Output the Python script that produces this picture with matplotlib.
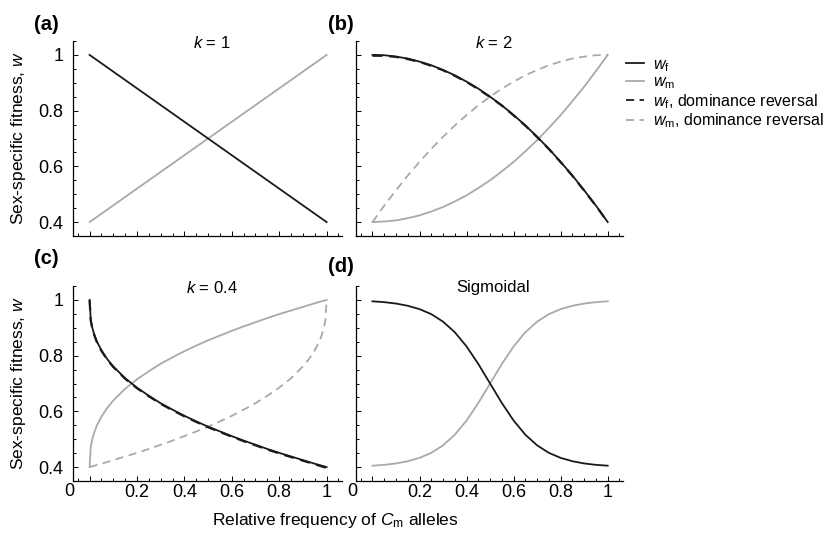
import matplotlib
matplotlib.use('Agg')
import matplotlib.pyplot as plt
from matplotlib.lines import Line2D
from matplotlib.ticker import MultipleLocator, FixedLocator, FixedFormatter

plt.rcParams['font.family'] = ['Liberation Sans', 'DejaVu Sans']
plt.rcParams['mathtext.fontset'] = 'custom'
plt.rcParams['mathtext.rm'] = 'Liberation Sans'
plt.rcParams['mathtext.it'] = 'Liberation Sans:italic'

# values
x_k1 = [0, 1]
wf_k1 = [1.0, 0.4]
wm_k1 = [0.4, 1.0]

x_k2 = [0, 0.05, 0.1, 0.15, 0.2, 0.25, 0.3, 0.35, 0.4, 0.45, 0.5,
        0.55, 0.6, 0.65, 0.7, 0.75, 0.8, 0.85, 0.9, 0.95, 1]
wf_k2 = [1.0, 0.999, 0.994, 0.987, 0.976, 0.963, 0.946, 0.927, 0.904, 0.879, 0.85,
         0.819, 0.784, 0.747, 0.706, 0.663, 0.616, 0.567, 0.514, 0.459, 0.4]
wm_k2 = [0.4, 0.402, 0.406, 0.414, 0.424, 0.438, 0.454, 0.474, 0.496, 0.522, 0.55,
         0.582, 0.616, 0.654, 0.694, 0.738, 0.784, 0.834, 0.886, 0.942, 1.0]
wf_k2_rev = [0.997, 0.997, 0.993, 0.985, 0.975, 0.961, 0.945, 0.925, 0.903, 0.877, 0.849,
             0.818, 0.783, 0.746, 0.705, 0.662, 0.615, 0.566, 0.513, 0.458, 0.4]
wm_k2_rev = [0.4, 0.459, 0.514, 0.567, 0.616, 0.663, 0.706, 0.747, 0.784, 0.819, 0.85,
             0.879, 0.904, 0.927, 0.946, 0.963, 0.976, 0.987, 0.994, 0.999, 1.0]

x_k04 = [0, 0.005, 0.01, 0.02, 0.03, 0.05, 0.075, 0.1, 0.15, 0.2, 0.25, 0.3, 0.35,
         0.4, 0.45, 0.5, 0.55, 0.6, 0.65, 0.7, 0.75, 0.8, 0.85, 0.9, 0.95, 1]
wf_k04 = [1.0, 0.928, 0.905, 0.875, 0.852, 0.819, 0.787, 0.761, 0.719, 0.685, 0.656,
          0.629, 0.606, 0.584, 0.564, 0.545, 0.528, 0.511, 0.495, 0.480, 0.465,
          0.451, 0.438, 0.425, 0.412, 0.4]
wm_k04 = [0.4, 0.472, 0.495, 0.525, 0.548, 0.581, 0.613, 0.639, 0.681, 0.715, 0.744,
          0.771, 0.794, 0.816, 0.836, 0.855, 0.872, 0.889, 0.905, 0.920, 0.935,
          0.949, 0.962, 0.975, 0.988, 1.0]
wf_k04_rev = [0.998, 0.926, 0.903, 0.873, 0.850, 0.817, 0.785, 0.759, 0.717, 0.683, 0.654,
              0.627, 0.604, 0.582, 0.562, 0.543, 0.526, 0.509, 0.493, 0.478, 0.463,
              0.449, 0.436, 0.423, 0.410, 0.397]
x_k04_rev = [0, 0.05, 0.1, 0.15, 0.2, 0.25, 0.3, 0.35, 0.4, 0.45, 0.5, 0.55, 0.6,
             0.65, 0.7, 0.75, 0.8, 0.85, 0.9, 0.925, 0.95, 0.97, 0.98, 0.99, 0.995, 1]
wm_k04_rev = [0.4, 0.412, 0.425, 0.438, 0.451, 0.465, 0.480, 0.495, 0.511, 0.528, 0.545,
              0.564, 0.584, 0.606, 0.629, 0.656, 0.685, 0.719, 0.761, 0.787, 0.819,
              0.852, 0.875, 0.905, 0.928, 1.0]

x_sig = x_k2
wf_sig = [0.995, 0.992, 0.987, 0.979, 0.967, 0.949, 0.922, 0.884, 0.833, 0.770, 0.7,
          0.630, 0.567, 0.516, 0.478, 0.451, 0.433, 0.421, 0.413, 0.408, 0.405]
wm_sig = [0.405, 0.408, 0.413, 0.421, 0.433, 0.451, 0.478, 0.516, 0.567, 0.630, 0.7,
          0.770, 0.833, 0.884, 0.922, 0.949, 0.967, 0.979, 0.987, 0.992, 0.995]

titles = ['$k$ = 1', '$k$ = 2', '$k$ = 0.4', 'Sigmoidal']
panel_tags = ['(a)', '(b)', '(c)', '(d)']
xtick_vals = [0, 0.2, 0.4, 0.6, 0.8, 1]
xtick_text = ['', '0.2', '0.4', '0.6', '0.8', '1']
ytick_vals = [0.4, 0.6, 0.8, 1]
ytick_text = ['0.4', '0.6', '0.8', '1']

BLACK = '#1a1a1a'
GREY = '#a9a9a9'
DASH = (0, (4.5, 3))

fig = plt.figure(figsize=(8.27, 5.33), dpi=100)
W, H = 827.0, 533.0
boxes = [(73, 41, 269, 195), (356, 41, 267, 195),
         (73, 286, 269, 195), (356, 286, 267, 195)]
axes = []
for (l, t, w, h) in boxes:
    axes.append(fig.add_axes([l / W, 1 - (t + h) / H, w / W, h / H]))

ax_a, ax_b, ax_c, ax_d = axes

ax_a.plot(x_k1, wm_k1, color=GREY, lw=1.3)
ax_a.plot(x_k1, wf_k1, color=BLACK, lw=1.3)

ax_b.plot(x_k2, wm_k2_rev, color=GREY, lw=1.3, ls=DASH)
ax_b.plot(x_k2, wm_k2, color=GREY, lw=1.3)
ax_b.plot(x_k2, wf_k2_rev, color=BLACK, lw=1.6, ls=DASH)
ax_b.plot(x_k2, wf_k2, color=BLACK, lw=1.3)

ax_c.plot(x_k04_rev, wm_k04_rev, color=GREY, lw=1.3, ls=DASH)
ax_c.plot(x_k04, wm_k04, color=GREY, lw=1.3)
ax_c.plot(x_k04, wf_k04_rev, color=BLACK, lw=1.6, ls=DASH)
ax_c.plot(x_k04, wf_k04, color=BLACK, lw=1.3)

ax_d.plot(x_sig, wm_sig, color=GREY, lw=1.3)
ax_d.plot(x_sig, wf_sig, color=BLACK, lw=1.3)

for i, ax in enumerate(axes):
    ax.set_xlim(-0.07, 1.065)
    ax.set_ylim(0.35, 1.05)
    for s in ['top', 'right']:
        ax.spines[s].set_visible(False)
    for s in ['left', 'bottom']:
        ax.spines[s].set_linewidth(0.9)
    ax.xaxis.set_major_locator(FixedLocator(xtick_vals))
    ax.xaxis.set_minor_locator(MultipleLocator(0.05))
    ax.yaxis.set_major_locator(FixedLocator(ytick_vals))
    ax.yaxis.set_minor_locator(MultipleLocator(0.05))
    ax.tick_params(which='both', direction='in', width=0.7, labelsize=13)
    ax.tick_params(which='major', length=3.8)
    ax.tick_params(which='minor', length=2)
    ax.tick_params(axis='y', pad=7)
    ax.tick_params(axis='x', pad=2)
    if i in (2, 3):
        ax.xaxis.set_major_formatter(FixedFormatter(xtick_text))
        ax.text(-0.085, -0.012, '0', transform=ax.get_xaxis_transform(),
                ha='center', va='top', fontsize=13)
    else:
        ax.set_xticklabels([])
    if i in (0, 2):
        ax.yaxis.set_major_formatter(FixedFormatter(ytick_text))
    else:
        ax.set_yticklabels([])
    ax.text(0.515, 0.99, titles[i], transform=ax.transAxes,
            ha='center', va='center', fontsize=12)

tag_pos = [(46, 24), (341, 24), (46, 259), (341, 266)]
for tag, (px, py) in zip(panel_tags, tag_pos):
    fig.text(px / W, 1 - py / H, tag, fontsize=14.5, fontweight='bold',
             ha='center', va='center')

for t, h in [(41, 195), (286, 195)]:
    fig.text(19 / W, 1 - (t + h / 2) / H, 'Sex-specific fitness, $w$',
             rotation=90, ha='center', va='center', fontsize=12.5)
fig.text(335 / W, 1 - 521 / H, 'Relative frequency of $C_\\mathrm{m}$ alleles',
         ha='center', va='center', fontsize=12.5)

handles = [Line2D([], [], color=BLACK, lw=1.3),
           Line2D([], [], color=GREY, lw=1.3),
           Line2D([], [], color=BLACK, lw=1.3, ls=DASH),
           Line2D([], [], color=GREY, lw=1.3, ls=DASH)]
labels = ['$w_\\mathrm{f}$', '$w_\\mathrm{m}$',
          '$w_\\mathrm{f}$, dominance reversal', '$w_\\mathrm{m}$, dominance reversal']
fig.legend(handles, labels, loc='upper left', bbox_to_anchor=(626 / W, 1 - 57 / H),
           frameon=False, fontsize=11.5, handlelength=1.1, handletextpad=0.6,
           labelspacing=0.05, borderpad=0, borderaxespad=0)

fig.savefig('out.png', dpi=100)
